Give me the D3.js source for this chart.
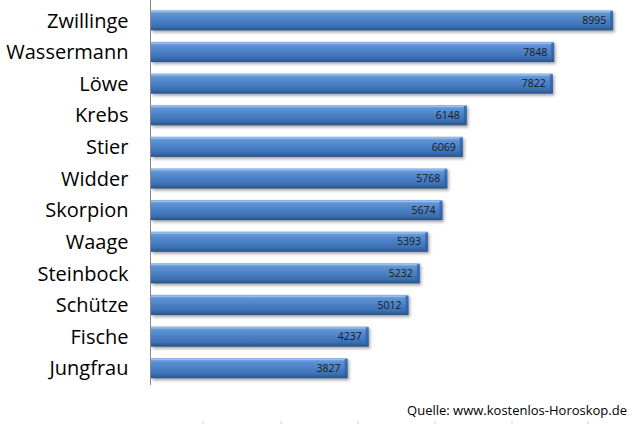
<!DOCTYPE html>
<html><head><meta charset="utf-8">
<script src="https://cdn.jsdelivr.net/npm/d3@7"></script>
<style>body{margin:0;background:#fff}svg{display:block}</style>
</head><body>
<script>
const categories = ["Zwillinge","Wassermann","Löwe","Krebs","Stier","Widder","Skorpion","Waage","Steinbock","Schütze","Fische","Jungfrau"];
const values = [8995,7848,7822,6148,6069,5768,5674,5393,5232,5012,4237,3827];
const sourceText = "Quelle: www.kostenlos-Horoskop.de";

const W=640,H=424;
const svg=d3.select("body").append("svg").attr("width",W).attr("height",H);
const defs=svg.append("defs");
const g=defs.append("linearGradient").attr("id","bar").attr("x1",0).attr("y1",0).attr("x2",0).attr("y2",1);
[[0,"#8db6e8"],[0.18,"#5f93d4"],[0.5,"#4a80c6"],[0.8,"#3b6fb0"],[1,"#2a5288"]].forEach(s=>g.append("stop").attr("offset",s[0]).attr("stop-color",s[1]));
const f=defs.append("filter").attr("id","sh").attr("x","-5%").attr("y","-20%").attr("width","115%").attr("height","160%");
f.append("feDropShadow").attr("dx",1.5).attr("dy",2).attr("stdDeviation",1.5).attr("flood-color","#000").attr("flood-opacity",0.35);

const x=d3.scaleLinear().domain([0,9000]).range([151,613.4]);
const y=d3.scaleBand().domain(categories).range([4.5,384]).paddingInner(0.36).paddingOuter(0.18);

// faint hidden x-axis ticks at bottom
const tickXs=[203,281,358,435,512,588];
svg.append("g").selectAll("line").data(tickXs).join("line")
  .attr("x1",d=>d).attr("x2",d=>d).attr("y1",421).attr("y2",424)
  .attr("stroke","#d0d0d0").attr("stroke-width",1);

const bars=svg.append("g");
bars.selectAll("rect.b").data(values).join("rect").attr("class","b")
  .attr("x",x(0)).attr("y",(d,i)=>y(categories[i]))
  .attr("width",d=>x(d)-x(0)).attr("height",y.bandwidth())
  .attr("fill","url(#bar)").attr("filter","url(#sh)");
// right bevel edge
bars.selectAll("rect.e").data(values).join("rect").attr("class","e")
  .attr("x",d=>x(d)-3).attr("y",(d,i)=>y(categories[i])+1)
  .attr("width",3).attr("height",y.bandwidth()-2)
  .attr("fill","#2f5e9c").attr("opacity",0.7);
// top highlight line
bars.selectAll("line.h").data(values).join("line").attr("class","h")
  .attr("x1",x(0)).attr("x2",d=>x(d)-3).attr("y1",(d,i)=>y(categories[i])+1.5).attr("y2",(d,i)=>y(categories[i])+1.5)
  .attr("stroke","#a9c8ef").attr("stroke-width",1).attr("opacity",0.8);

// axis line
svg.append("line").attr("x1",150.5).attr("x2",150.5).attr("y1",0).attr("y2",385).attr("stroke","#888").attr("stroke-width",1);

// category labels
svg.append("g").selectAll("text").data(categories).join("text")
  .attr("x",128.5).attr("y",d=>y(d)+y.bandwidth()/2).attr("dy","0.36em")
  .attr("text-anchor","end").attr("font-family","'Open Sans',sans-serif").attr("font-size",20)
  .attr("fill","#000").text(d=>d);

// value labels
svg.append("g").selectAll("text").data(values).join("text")
  .attr("x",d=>x(d)-7).attr("y",(d,i)=>y(categories[i])+y.bandwidth()/2).attr("dy","0.36em")
  .attr("text-anchor","end").attr("font-family","'Open Sans',sans-serif").attr("font-size",10.5)
  .attr("fill","#1a1a1a").text(d=>d);

svg.append("text").attr("x",627).attr("y",415).attr("text-anchor","end")
  .attr("font-family","'Open Sans',sans-serif").attr("font-size",13).attr("fill","#000").text(sourceText);
</script>
</body></html>
